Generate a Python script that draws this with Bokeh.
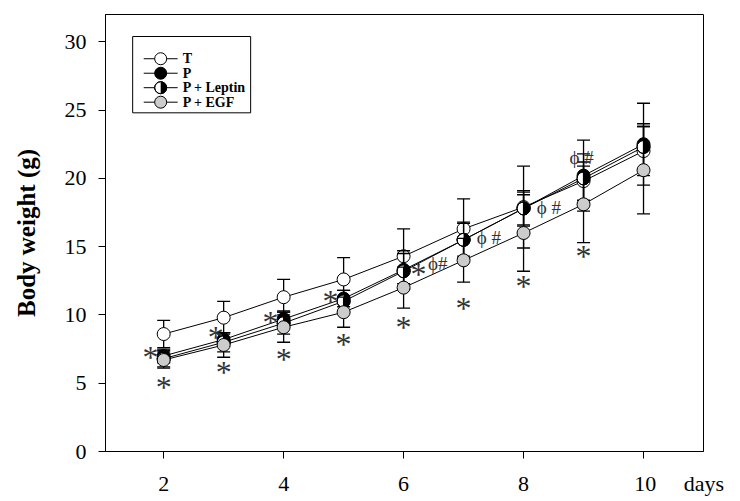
import math
from bokeh.plotting import figure
from bokeh.models import ColumnDataSource, FixedTicker, Range1d
from bokeh.core.properties import value
from bokeh.embed import file_html
from bokeh.resources import INLINE

# ---------------- data ----------------
days = [2, 3, 4, 5, 6, 7, 8, 9, 10]
t_mean = [8.6, 9.8, 11.3, 12.6, 14.3, 16.3, 17.9, 19.8, 22.0]
t_err = [1.0, 1.2, 1.3, 1.6, 2.0, 2.2, 3.0, 1.4, 1.8]
p_mean = [7.0, 8.2, 9.7, 11.2, 13.3, 15.5, 17.8, 20.2, 22.5]
p_err = [0.5, 0.5, 0.6, 0.6, 1.4, 1.3, 1.3, 2.6, 3.0]
lep_mean = [6.8, 8.0, 9.4, 11.0, 13.2, 15.5, 17.8, 20.0, 22.3]
lep_err = [0.6, 0.7, 0.8, 0.8, 1.3, 1.2, 1.2, 1.8, 1.7]
egf_mean = [6.7, 7.8, 9.1, 10.2, 12.0, 14.0, 16.0, 18.1, 20.6]
egf_err = [0.6, 0.9, 1.1, 1.1, 1.5, 1.6, 2.8, 2.8, 3.2]

series_names = ["T", "P", "P + Leptin", "P + EGF"]
x_ticks = [2, 4, 6, 8, 10]
y_ticks = [0, 5, 10, 15, 20, 25, 30]
x_unit = "days"

# significance marks (x, y, text)
star_x = [1.78, 2.87, 3.78, 4.78, 6.25, 2, 3, 4, 5, 6, 7, 8, 9]
star_y = [7.2, 8.7, 9.8, 11.3, 13.3, 5.0, 6.1, 7.1, 8.2, 9.4, 10.8, 12.4, 14.6]
phi_x = [6.57, 7.42, 8.42, 8.97]
phi_y = [13.75, 15.7, 17.85, 21.5]
phi_text = ["\u03d5#", "\u03d5 #", "\u03d5 #", "\u03d5 #"]

SERIF = "Liberation Serif"
NB = "\u00a0"

p = figure(width=740, height=501, x_range=Range1d(1.03, 11), y_range=Range1d(0, 32),
           output_backend="svg", toolbar_location=None,
           min_border_left=105, min_border_right=37, min_border_top=14, min_border_bottom=50)
p.grid.visible = False
p.outline_line_color = "black"
p.outline_line_width = 1
p.background_fill_color = "white"

p.xaxis.ticker = FixedTicker(ticks=x_ticks)
p.yaxis.ticker = FixedTicker(ticks=y_ticks)
# last x tick label carries the unit word to its right
p.xaxis.major_label_overrides = {x_ticks[-1]: NB * 13 + str(x_ticks[-1]) + NB * 5 + x_unit}
for ax in (p.xaxis, p.yaxis):
    ax.minor_tick_line_color = None
    ax.major_tick_in = 0
    ax.major_tick_out = 7
    ax.axis_line_color = "black"
    ax.major_tick_line_color = "black"
    ax.major_label_text_font = SERIF
    ax.major_label_text_font_size = "22px"
    ax.major_label_text_color = "black"
p.xaxis.major_label_standoff = 12
p.yaxis.major_label_standoff = 12
p.yaxis.axis_label = "Body weight (g)"
p.yaxis.axis_label_text_font = SERIF
p.yaxis.axis_label_text_font_style = "bold"
p.yaxis.axis_label_text_font_size = "25px"
p.yaxis.axis_label_text_color = "black"
p.yaxis.axis_label_standoff = 22

fills = ["white", "black", "white", "#cccccc"]
means = [t_mean, p_mean, lep_mean, egf_mean]
errs = [t_err, p_err, lep_err, egf_err]
MS = 13

for i, (m, e) in enumerate(zip(means, errs)):
    up = [a + b for a, b in zip(m, e)]
    lo = [a - b for a, b in zip(m, e)]
    src = ColumnDataSource(dict(x=days, y=m, up=up, lo=lo))
    p.line("x", "y", source=src, line_color="black", line_width=1)
    p.segment(x0="x", y0="lo", x1="x", y1="up", source=src, line_color="black", line_width=1.3)
    p.scatter("x", "up", source=src, marker="dash", size=13, line_color="black", line_width=1.3)
    p.scatter("x", "lo", source=src, marker="dash", size=13, line_color="black", line_width=1.3)
    p.scatter("x", "y", source=src, marker="circle", size=MS, fill_color=fills[i],
              line_color="black", line_width=1)
    if i == 2:
        p.wedge("x", "y", source=src, radius=MS / 2, radius_units="screen",
                start_angle=-math.pi / 2, end_angle=math.pi / 2,
                fill_color="black", line_color=None)
        p.scatter("x", "y", source=src, marker="circle", size=MS, fill_color=None,
                  line_color="black", line_width=1)

# significance marks
p.text(x=star_x, y=star_y, text=["*"] * len(star_x), text_font=value(SERIF),
       text_font_size="32px", text_align="center", text_baseline="middle",
       y_offset=4, text_color="#333333")
p.text(x=phi_x, y=phi_y, text=phi_text, text_font=value(SERIF),
       text_font_size="19px", text_align="center", text_baseline="middle",
       text_color="#333333")

# legend (drawn in the plot area)
leg_left, leg_right, leg_top, leg_bottom = 1.483, 3.45, 30.39, 24.8
row_y0, row_step = 28.76, 1.06
line_x0, line_x1, mark_x, text_x = 1.667, 2.233, 1.95, 2.317
p.quad(left=[leg_left], right=[leg_right], top=[leg_top], bottom=[leg_bottom],
       fill_color="white", line_color="black", line_width=1)
ly = [row_y0 - k * row_step for k in range(len(series_names))]
for k, name in enumerate(series_names):
    p.line([line_x0, line_x1], [ly[k], ly[k]], line_color="black", line_width=1)
    p.scatter([mark_x], [ly[k]], marker="circle", size=12, fill_color=fills[k],
              line_color="black", line_width=1)
    if k == 2:
        p.wedge([mark_x], [ly[k]], radius=6, radius_units="screen",
                start_angle=-math.pi / 2, end_angle=math.pi / 2,
                fill_color="black", line_color=None)
        p.scatter([mark_x], [ly[k]], marker="circle", size=12, fill_color=None,
                  line_color="black", line_width=1)
p.text(x=[text_x] * len(series_names), y=ly, text=series_names, text_font=value(SERIF),
       text_font_size="14px", text_font_style="bold", text_baseline="middle",
       text_align="left", text_color="black")

open("out.html", "w").write(file_html(p, INLINE))
